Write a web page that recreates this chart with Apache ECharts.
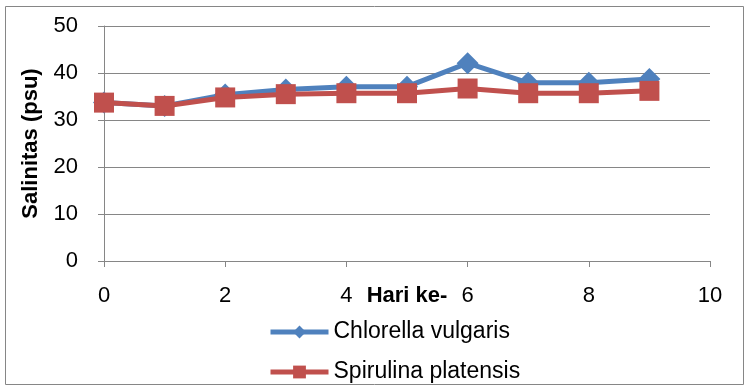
<!DOCTYPE html>
<html><head><meta charset="utf-8">
<script src="https://cdn.jsdelivr.net/npm/echarts@6/dist/echarts.min.js"></script>
<style>html,body{margin:0;padding:0;background:#fff}#c{width:748px;height:388px}</style>
</head><body><div id="c"></div>
<script>
var days = [0, 1, 2, 3, 4, 5, 6, 7, 8, 9];
var chlorella = [33.7, 33.0, 35.4, 36.5, 37.1, 37.1, 42.1, 37.9, 37.9, 38.7];
var spirulina = [33.7, 33.0, 34.8, 35.5, 35.7, 35.7, 36.7, 35.7, 35.7, 36.2];
var seriesNames = ['Chlorella vulgaris', 'Spirulina platensis'];
var xTitle = 'Hari ke-';
var yTitle = 'Salinitas (psu)';

function pairs(xs, ys) { return xs.map(function (x, i) { return [x, ys[i]]; }); }

var font = 'Liberation Sans';
var chart = echarts.init(document.getElementById('c'), null, {renderer: 'canvas'});
chart.setOption({
  animation: false,
  backgroundColor: '#fff',
  graphic: [{type: 'rect', shape: {x: 5.5, y: 6.5, width: 738, height: 378}, style: {fill: 'none', stroke: '#868686', lineWidth: 1}}],
  grid: {left: 104, right: 38, top: 26, bottom: 127},
  legend: {
    orient: 'vertical', left: 268, top: 320, height: 68, padding: 0, itemWidth: 58, itemHeight: 16, itemGap: 16,
    textStyle: {fontFamily: font, fontSize: 23, lineHeight: 24, color: '#000'},
    lineStyle: {width: 5},
    data: seriesNames
  },
  xAxis: {
    type: 'value', min: 0, max: 10, interval: 2,
    name: xTitle, nameLocation: 'middle', nameGap: 24, nameMoveOverlap: false,
    nameTextStyle: {fontFamily: font, fontSize: 22, fontWeight: 'bold', color: '#000'},
    axisLine: {show: true, lineStyle: {color: '#868686', width: 1}},
    axisTick: {show: true, length: 6, lineStyle: {color: '#868686'}},
    axisLabel: {fontFamily: font, fontSize: 22, color: '#000', margin: 24},
    splitLine: {show: false}
  },
  yAxis: {
    type: 'value', min: 0, max: 50, interval: 10,
    name: yTitle, nameLocation: 'middle', nameGap: 62, nameMoveOverlap: false,
    nameTextStyle: {fontFamily: font, fontSize: 22, fontWeight: 'bold', color: '#000'},
    axisLine: {show: true, lineStyle: {color: '#868686', width: 1}},
    axisTick: {show: true, length: 6, lineStyle: {color: '#868686'}},
    axisLabel: {fontFamily: font, fontSize: 22, color: '#000', margin: 26},
    splitLine: {show: true, lineStyle: {color: '#868686', width: 1}}
  },
  series: [
    {name: seriesNames[0], type: 'line', data: pairs(days, chlorella), symbol: 'diamond', symbolSize: 22,
     lineStyle: {color: '#4F81BD', width: 5}, itemStyle: {color: '#4F81BD'}, z: 2},
    {name: seriesNames[1], type: 'line', data: pairs(days, spirulina), symbol: 'rect', symbolSize: 20,
     lineStyle: {color: '#C0504D', width: 5}, itemStyle: {color: '#C0504D'}, z: 3}
  ]
});
</script></body></html>
